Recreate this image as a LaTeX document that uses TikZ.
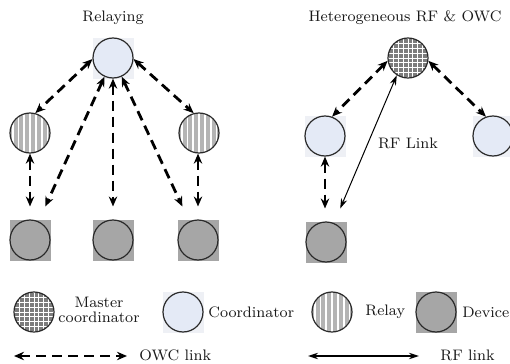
\documentclass[tikz,border=0pt]{standalone}
\usetikzlibrary{arrows.meta}
\definecolor{coordfill}{HTML}{E4EAF6}
\definecolor{coordsqfill}{HTML}{EEF0F5}
\definecolor{mastergray}{HTML}{7C7C7C}
\definecolor{relaygray}{HTML}{B4B4B4}
\definecolor{devgray}{HTML}{A6A6A6}
\definecolor{edgegray}{HTML}{2A2A2A}
\begin{document}
\begin{tikzpicture}[x=0.5pt,y=-0.5pt,
  lbl/.style={font=\fontsize{7.6}{8.6}\selectfont, inner sep=0pt, text=black!90},
  circ/.style={circle, draw=edgegray, line width=0.6pt, minimum size=20pt, inner sep=0pt},
  coord/.style={circ, fill=coordfill},
  coordsq/.style={rectangle, fill=coordsqfill, minimum size=20.5pt, inner sep=0pt},
  master/.style={circ, fill=mastergray, path picture={
      \foreach \k in {-5,...,5}{
        \draw[white, line width=0.35pt]
          ([xshift=\k*2.4pt]path picture bounding box.south) -- ([xshift=\k*2.4pt]path picture bounding box.north);
        \draw[white, line width=0.35pt]
          ([yshift=\k*2.4pt]path picture bounding box.west) -- ([yshift=\k*2.4pt]path picture bounding box.east);
      }}},
  relay/.style={circ, fill=relaygray, path picture={
      \foreach \k in {-4,...,4}{
        \draw[white, line width=0.9pt]
          ([xshift=\k*2.9pt]path picture bounding box.south) -- ([xshift=\k*2.9pt]path picture bounding box.north);
      }}},
  devsq/.style={rectangle, fill=devgray, minimum size=20.5pt, inner sep=0pt, outer sep=6.5pt},
  devsqleg/.style={rectangle, fill=devgray, minimum size=20.5pt, inner sep=0pt},
  devcirc/.style={circ, fill=devgray},
  owc/.style={line width=1.4pt, dash pattern=on 5pt off 3pt, {Stealth[length=5pt,width=4.2pt]}-{Stealth[length=5pt,width=4.2pt]}},
  rf/.style={line width=0.5pt, {Stealth[length=5pt,width=3.2pt]}-{Stealth[length=5pt,width=3.2pt]}}
]
\useasboundingbox (0,0) rectangle (510,364);

% ---------- Left panel: Relaying ----------
\node[lbl] (t1) at (113,18) {Relaying};
\node[coordsq] (C0s) at (113,58) {};
\node[coord] (C0) at (113,58) {};
\node[relay] (R1) at (30,133) {};
\node[relay] (R2) at (199,133) {};
\node[devsq] (D1) at (30,240) {};
\node[devcirc] (D1c) at (30,240) {};
\node[devsq] (D2) at (113,240) {};
\node[devcirc] (D2c) at (113,240) {};
\node[devsq] (D3) at (198,240) {};
\node[devcirc] (D3c) at (198,240) {};

\draw[owc] (C0.183) -- (R1.75);
\draw[owc] (C0.-3) -- (R2.105);
\draw[owc] (C0) -- (D1);
\draw[owc] (C0) -- (D2);
\draw[owc] (C0) -- (D3);
\draw[owc] (R1) -- (D1);
\draw[owc] (R2.south -| D3) -- (D3);

% ---------- Right panel: Heterogeneous ----------
\node[lbl] (t2) at (405,18) {Heterogeneous RF \& OWC};
\node[master] (M) at (408,58) {};
\node[coordsq] (C1s) at (325,136) {};
\node[coord] (C1) at (325,136) {};
\node[coordsq] (C2s) at (493,136) {};
\node[coord] (C2) at (493,136) {};
\node[devsq] (D4) at (326,242) {};
\node[devcirc] (D4c) at (326,242) {};

\draw[owc] (M.188) -- (C1.70);
\draw[owc] (M.-8) -- (C2.110);
\draw[owc] (C1) -- (C1 |- D4.north);
\draw[rf] (M.237) -- (D4);
\node[lbl] (rfl) at (408,143) {RF Link};

% ---------- Legend ----------
\node[master] (L1) at (34,312) {};
\node[lbl, align=center] (L1t) at (99,310) {Master\\[-1pt]coordinator};
\node[coordsq] (L2s) at (183,312) {};
\node[coord] (L2) at (183,312) {};
\node[lbl, anchor=west] (L2t) at (208,312) {Coordinator};
\node[relay] (L3) at (332,312) {};
\node[lbl, anchor=west] (L3t) at (365,312) {Relay};
\node[devsqleg] (L4s) at (436,312) {};
\node[devcirc] (L4) at (436,312) {};
\node[lbl, anchor=west] (L4t) at (462,312) {Device};

\coordinate (owcA) at (14,356);
\coordinate (owcB) at (127,356);
\draw[owc] (owcA) -- (owcB);
\node[lbl, anchor=west] (owct) at (139,355) {OWC link};
\coordinate (rfA) at (308,356);
\coordinate (rfB) at (419,356);
\draw[rf, line width=0.7pt] (rfA) -- (rfB);
\node[lbl, anchor=west] (rft) at (440,355) {RF link};
\end{tikzpicture}
\end{document}
